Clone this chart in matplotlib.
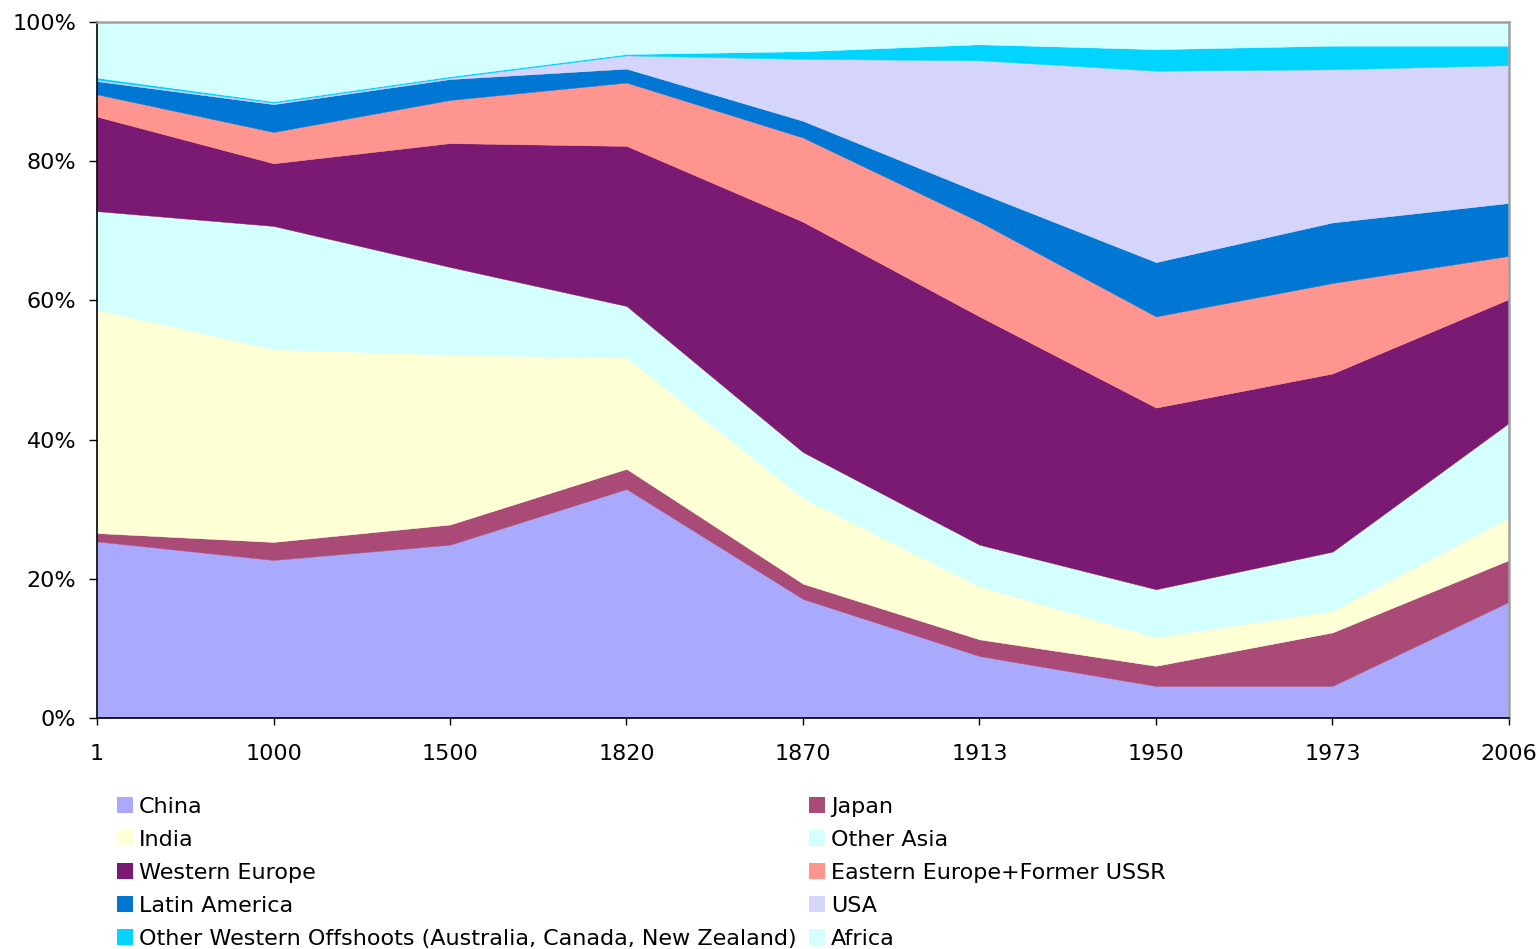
import numpy as np
import matplotlib
matplotlib.use("Agg")
import matplotlib.pyplot as plt
from matplotlib.patches import Patch
from matplotlib.ticker import FuncFormatter

years = ["1", "1000", "1500", "1820", "1870", "1913", "1950", "1973", "2006"]

china = [25.4, 22.7, 24.9, 32.9, 17.1, 8.9, 4.6, 4.6, 16.7]
japan = [1.2, 2.6, 2.9, 2.9, 2.2, 2.4, 2.9, 7.7, 6.0]
india = [32.1, 27.7, 24.4, 16.0, 12.3, 7.6, 4.1, 3.1, 6.1]
other_asia = [14.2, 17.7, 12.6, 7.4, 6.6, 6.0, 6.9, 8.5, 13.6]
western_europe = [13.6, 9.0, 17.8, 23.0, 33.1, 32.8, 26.1, 25.6, 17.8]
eastern_europe = [3.2, 4.5, 6.2, 9.1, 12.1, 13.6, 13.1, 13.0, 6.2]
latin_america = [1.9, 4.0, 3.0, 2.0, 2.4, 4.2, 7.8, 8.7, 7.6]
usa = [0.2, 0.2, 0.2, 1.9, 8.9, 19.0, 27.5, 22.0, 19.8]
other_offshoots = [0.3, 0.2, 0.2, 0.2, 1.1, 2.3, 3.1, 3.4, 2.8]
africa = [8.0, 11.4, 7.8, 4.6, 4.2, 3.2, 3.9, 3.4, 3.4]

labels = ["China", "Japan", "India", "Other Asia", "Western Europe",
          "Eastern Europe+Former USSR", "Latin America", "USA",
          "Other Western Offshoots (Australia, Canada, New Zealand)", "Africa"]
colors = ["#A9AAFD", "#AA4A76", "#FFFFD5", "#D3FFFF", "#7A1A73",
          "#FF958E", "#0077D3", "#D5D5FC", "#00D4FF", "#D3FFFF"]

series = np.array([china, japan, india, other_asia, western_europe,
                   eastern_europe, latin_america, usa, other_offshoots, africa])
shares = series / series.sum(axis=0) * 100

fig = plt.figure(figsize=(15.39, 9.49), dpi=100)
ax = fig.add_axes([97/1539, 1 - 718/949, (1509-97)/1539, (718-22)/949])

x = np.arange(len(years))
polys = ax.stackplot(x, *shares, colors=colors, linewidth=0)
for p in polys:
    p.set_edgecolor("face")
    p.set_linewidth(0.3)

ax.set_xlim(0, len(years) - 1)
ax.set_ylim(0, 100)
ax.set_xticks(x)
ax.set_xticklabels(years)
ax.set_yticks([0, 20, 40, 60, 80, 100])
ax.yaxis.set_major_formatter(FuncFormatter(lambda v, p: f"{int(v)}%"))

fs = 16
ax.tick_params(axis="x", length=5, width=1, pad=14, labelsize=fs, direction="out")
ax.tick_params(axis="y", length=6, width=1, pad=9, labelsize=fs, direction="out")

for s in ["left", "bottom"]:
    ax.spines[s].set_color("#000000")
    ax.spines[s].set_linewidth(1.2)
for s in ["top", "right"]:
    ax.spines[s].set_color("#A0A0A0")
    ax.spines[s].set_linewidth(1.8)

order = [0, 2, 4, 6, 8, 1, 3, 5, 7, 9]
handles = [Patch(facecolor=colors[i], edgecolor="none") for i in order]
leg_labels = [labels[i] for i in order]
fig.legend(handles, leg_labels, loc="upper left",
           bbox_to_anchor=(117/1539, 1 - 797/949), ncol=2, frameon=False,
           fontsize=fs, handlelength=0.72, handleheight=0.72,
           handletextpad=0.28, columnspacing=0.55, labelspacing=0.58,
           borderpad=0, borderaxespad=0)

fig.savefig("out.png", dpi=100)
